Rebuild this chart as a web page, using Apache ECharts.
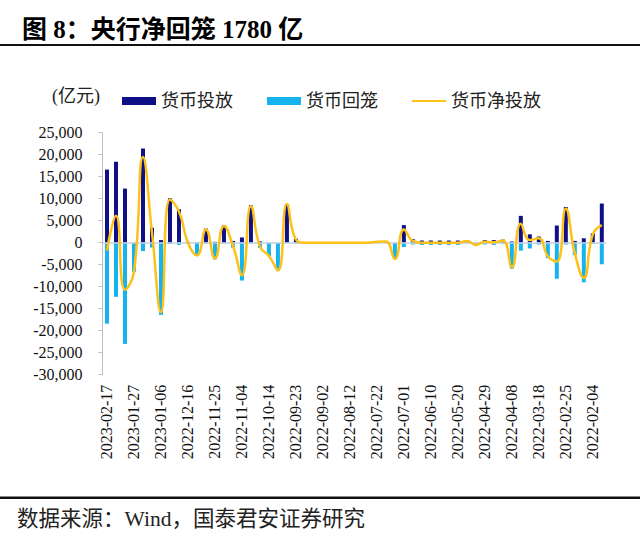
<!DOCTYPE html>
<html>
<head>
<meta charset="utf-8">
<script src="https://cdn.jsdelivr.net/npm/echarts@6/dist/echarts.min.js"></script>
<style>
html,body{margin:0;padding:0;background:#fff;}
#c{width:640px;height:541px;}
</style>
</head>
<body>
<div id="c"></div>
<script>
// Weekly dates (latest first)
var categories = [
'2023-02-17','2023-02-10','2023-02-03','2023-01-27','2023-01-20','2023-01-13','2023-01-06',
'2022-12-30','2022-12-23','2022-12-16','2022-12-09','2022-12-02','2022-11-25','2022-11-18',
'2022-11-11','2022-11-04','2022-10-28','2022-10-21','2022-10-14','2022-10-07','2022-09-30',
'2022-09-23','2022-09-16','2022-09-09','2022-09-02','2022-08-26','2022-08-19','2022-08-12',
'2022-08-05','2022-07-29','2022-07-22','2022-07-15','2022-07-08','2022-07-01','2022-06-24',
'2022-06-17','2022-06-10','2022-06-03','2022-05-27','2022-05-20','2022-05-13','2022-05-06',
'2022-04-29','2022-04-22','2022-04-15','2022-04-08','2022-04-01','2022-03-25','2022-03-18',
'2022-03-11','2022-03-04','2022-02-25','2022-02-18','2022-02-11','2022-02-04','2022-01-28'
];
// 货币投放 (亿元)
var injection = [
16620,18400,12300,0,21400,3400,600,
10100,7600,200,100,3200,200,4000,
400,1200,8500,300,0,0,8800,
900,0,0,0,0,0,0,
0,0,200,300,0,4000,800,
500,500,500,500,500,500,0,
600,600,700,300,6100,1900,1400,
400,3900,8100,400,1000,2100,8900
];
// 货币回笼 (亿元)
var withdrawal = [
-18400,-12300,-23000,-6600,-1900,-1100,-16400,
-300,-500,-200,-3000,-200,-3800,-200,
-1100,-8600,-200,-1200,-3000,-6300,0,
-200,0,0,0,0,0,0,
0,0,0,0,-3700,-1000,-400,
-500,-500,-500,-500,-500,-100,-500,
-400,-500,-200,-5900,-1800,-1300,-400,
-3500,-8200,-400,-2800,-9000,-200,-4900
];
// 货币净投放 (亿元)
var netInjection = [
-1780,6100,-10700,-6600,19500,2300,-15800,
9800,7100,0,-2900,3000,-3600,3800,
-700,-7400,8300,-900,-3000,-6300,8800,
700,0,0,0,0,0,0,
0,0,200,300,-3700,3000,400,
0,0,0,0,0,400,-500,
200,100,500,-5600,4300,600,1000,
-3100,-4300,7700,-2400,-8000,1900,4000
];
var yTicks = {min: -30000, max: 25000, interval: 5000};

function fmt(v){
  var s = Math.abs(v).toString().replace(/\B(?=(\d{3})+(?!\d))/g, ',');
  return (v < 0 ? '-' : '') + s;
}

var serif = "'Liberation Serif', 'Noto Sans CJK SC', serif";
var cjk = "'Liberation Serif', 'Noto Sans CJK SC', sans-serif";
var lineIcon = 'path://M0,0L0.01,0L0.01,0.01Z M0,3H34V5H0Z M33.99,8L34,8L34,7.99Z';

var chart = echarts.init(document.getElementById('c'), null, {renderer: 'svg'});
chart.setOption({
  animation: false,
  backgroundColor: '#fff',
  title: {
    text: '图 8：央行净回笼 1780 亿',
    left: 17, top: 12,
    textStyle: {fontSize: 25, fontWeight: 'bold', color: '#000', fontFamily: cjk}
  },
  graphic: [
    {type: 'rect', shape: {x: 0, y: 44, width: 640, height: 2}, style: {fill: '#111'}, silent: true},
    {type: 'rect', shape: {x: 0, y: 496.5, width: 640, height: 2.5}, style: {fill: '#111'}, silent: true},
    {type: 'text', left: 52, top: 87, style: {text: '(亿元)', fontSize: 18, fill: '#222', fontFamily: cjk}},
    {type: 'text', left: 17, top: 508, style: {text: '数据来源：Wind，国泰君安证券研究', fontSize: 21.5, fill: '#222', fontFamily: cjk}}
  ],
  legend: {
    left: 117, top: 87,
    itemWidth: 34, itemHeight: 8, itemGap: 34,
    textStyle: {fontSize: 18, color: '#222', fontFamily: cjk},
    data: [
      {name: '货币投放', icon: 'rect'},
      {name: '货币回笼', icon: 'rect'},
      {name: '货币净投放', icon: lineIcon}
    ]
  },
  grid: {left: 102.5, right: 33.7, top: 132.7, bottom: 166.3, containLabel: false},
  xAxis: {
    type: 'category',
    data: categories,
    boundaryGap: true,
    axisLine: {show: false, onZero: false},
    axisTick: {show: false},
    axisLabel: {rotate: 90, interval: 2, fontSize: 16, margin: 10, color: '#111', fontFamily: serif}
  },
  yAxis: {
    type: 'value',
    min: yTicks.min, max: yTicks.max, interval: yTicks.interval,
    axisLine: {show: true, lineStyle: {color: '#bfbfbf', width: 1}},
    axisTick: {show: true, length: 4, lineStyle: {color: '#bfbfbf'}},
    splitLine: {show: false},
    axisLabel: {formatter: fmt, fontSize: 16, margin: 20, color: '#111', fontFamily: serif}
  },
  series: [
    {
      name: '货币投放', type: 'bar', data: injection,
      barWidth: 4, barGap: '-100%',
      itemStyle: {color: '#0f0f86'},
      markLine: {
        silent: true, symbol: 'none', label: {show: false},
        lineStyle: {color: '#c5cfe2', width: 1.5, type: 'solid'},
        data: [{yAxis: 0}]
      }
    },
    {
      name: '货币回笼', type: 'bar', data: withdrawal,
      barWidth: 4, barGap: '-100%',
      itemStyle: {color: '#16b4ee'}
    },
    {
      name: '货币净投放', type: 'line', data: netInjection,
      smooth: true, symbol: 'none', z: 5,
      lineStyle: {color: '#fcc21a', width: 2.5},
      itemStyle: {color: '#fcc21a'}
    }
  ]
});
</script>
</body>
</html>
